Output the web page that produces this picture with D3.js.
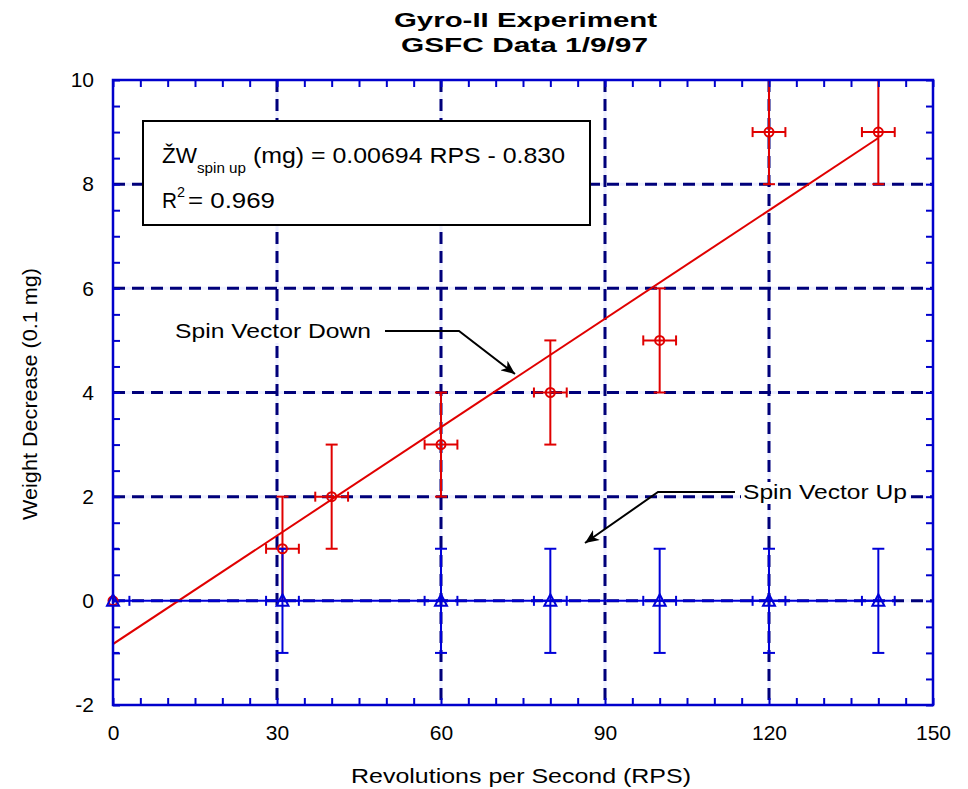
<!DOCTYPE html>
<html>
<head>
<meta charset="utf-8">
<script src="https://d3js.org/d3.v7.min.js"></script>
<style>
  html, body { margin: 0; padding: 0; background: #fff; }
  svg { display: block; }
  text { font-family: Arial, "Liberation Sans", sans-serif; fill: #000; }
</style>
</head>
<body>
<svg id="chart" width="968" height="789"></svg>
<script>
// ---------- data ----------
const titleLines = ["Gyro-II Experiment", "GSFC Data 1/9/97"];
const xTicks = [0, 30, 60, 90, 120, 150];
const yTicks = [-2, 0, 2, 4, 6, 8, 10];
const xLabel = "Revolutions per Second (RPS)";
const yLabel = "Weight Decrease (0.1 mg)";

// Spin Vector Down (red circles)
const downRps   = [0, 31, 40, 60, 80, 100, 120, 140];
const downVal   = [0, 1, 2, 3, 4, 5, 9, 9];
const downErrY  = [0, 1, 1, 1, 1, 1, 1, 1];
const downErrX  = [0, 3, 3, 3, 3, 3, 3, 3];

// Spin Vector Up (blue triangles)
const upRps  = [0, 31, 60, 80, 100, 120, 140];
const upVal  = [0, 0, 0, 0, 0, 0, 0];
const upErrY = [1, 1, 1, 1, 1, 1, 1];
const upErrX = [3, 3, 3, 3, 3, 3, 3];

// Linear fit of spin-down data (units of 0.1 mg)
const fitSlope = 0.0694;
const fitIntercept = -0.830;
const fitR2 = 0.969;
const fitRange = [0, 140];

// ---------- layout ----------
const svg = d3.select("#chart");
const L = 113, R = 933, T = 80, B = 705;
const x = d3.scaleLinear().domain([0, 150]).range([L, R]);
const y = d3.scaleLinear().domain([-2, 10]).range([B, T]);

const RED = "#e00000", BLUE = "#0000d8", FRAME = "#0000cc", NAVY = "#00007a";

const defs = svg.append("defs");
defs.append("clipPath").attr("id", "plotclip")
  .append("rect").attr("x", L).attr("y", T).attr("width", R - L).attr("height", B - T);

// grid (light underlay + dashed navy)
const grid = svg.append("g");
const gx = xTicks.slice(1, -1), gy = yTicks.slice(1, -1);
[["#eef0ff", null], [NAVY, "12,7"]].forEach(([c, d]) => {
  grid.selectAll(null).data(gx).enter().append("line")
    .attr("x1", d => x(d)).attr("x2", d => x(d)).attr("y1", T).attr("y2", B)
    .attr("stroke", c).attr("stroke-width", 3).attr("stroke-dasharray", d);
  grid.selectAll(null).data(gy).enter().append("line")
    .attr("y1", d => y(d)).attr("y2", d => y(d)).attr("x1", L).attr("x2", R)
    .attr("stroke", c).attr("stroke-width", 3).attr("stroke-dasharray", d);
});

const plot = svg.append("g").attr("clip-path", "url(#plotclip)");

// fit line
plot.append("line")
  .attr("x1", x(fitRange[0])).attr("y1", y(fitSlope * fitRange[0] + fitIntercept))
  .attr("x2", x(fitRange[1])).attr("y2", y(fitSlope * fitRange[1] + fitIntercept))
  .attr("stroke", RED).attr("stroke-width", 2);

function errorBars(g, xs, vs, ex, ey, color) {
  xs.forEach((xv, i) => {
    const cx = x(xv), cy = y(vs[i]);
    if (ey[i] > 0) {
      const y1 = y(vs[i] + ey[i]), y2 = y(vs[i] - ey[i]);
      g.append("line").attr("x1", cx).attr("x2", cx).attr("y1", y1).attr("y2", y2)
        .attr("stroke", color).attr("stroke-width", 2);
      [y1, y2].forEach(yy => g.append("line").attr("x1", cx - 6).attr("x2", cx + 6)
        .attr("y1", yy).attr("y2", yy).attr("stroke", color).attr("stroke-width", 2));
    }
    if (ex[i] > 0) {
      const x1 = x(xv - ex[i]), x2 = x(xv + ex[i]);
      g.append("line").attr("x1", x1).attr("x2", x2).attr("y1", cy).attr("y2", cy)
        .attr("stroke", color).attr("stroke-width", 2);
      [x1, x2].forEach(xx => g.append("line").attr("x1", xx).attr("x2", xx)
        .attr("y1", cy - 5).attr("y2", cy + 5).attr("stroke", color).attr("stroke-width", 2));
    }
  });
}

// red series error bars
const red = plot.append("g");
errorBars(red, downRps, downVal, downErrX, downErrY, RED);

// blue series line + error bars
const blue = plot.append("g");
blue.append("path")
  .datum(upRps.map((d, i) => [d, upVal[i]]))
  .attr("d", d3.line().x(d => x(d[0])).y(d => y(d[1])))
  .attr("fill", "none").attr("stroke", BLUE).attr("stroke-width", 2);
errorBars(blue, upRps, upVal, upErrX, upErrY, BLUE);

// frame & ticks
const minorX = d3.range(0, 150.01, 5), minorY = d3.range(-2, 10.01, 0.5);
const tickStyle = g => { g.select(".domain").remove(); g.selectAll("line").attr("stroke", FRAME).attr("stroke-width", 2); };
svg.append("g").attr("transform", `translate(0,${B})`)
  .call(d3.axisBottom(x).tickValues(minorX).tickSize(-7).tickFormat("")).call(tickStyle);
svg.append("g").attr("transform", `translate(0,${T})`)
  .call(d3.axisTop(x).tickValues(minorX).tickSize(-7).tickFormat("")).call(tickStyle);
svg.append("g").attr("transform", `translate(${L},0)`)
  .call(d3.axisLeft(y).tickValues(minorY).tickSize(-7).tickFormat("")).call(tickStyle);
svg.append("g").attr("transform", `translate(${R},0)`)
  .call(d3.axisRight(y).tickValues(minorY).tickSize(-7).tickFormat("")).call(tickStyle);
svg.append("rect").attr("x", L).attr("y", T).attr("width", R - L).attr("height", B - T)
  .attr("fill", "none").attr("stroke", FRAME).attr("stroke-width", 2.5);

// markers (not clipped)
svg.append("g").selectAll("circle").data(downRps).enter().append("circle")
  .attr("cx", d => x(d)).attr("cy", (d, i) => y(downVal[i])).attr("r", 4.5)
  .attr("fill", "none").attr("stroke", RED).attr("stroke-width", 2);
svg.append("g").selectAll("path").data(upRps).enter().append("path")
  .attr("transform", (d, i) => `translate(${x(d)},${y(upVal[i])})`)
  .attr("d", "M0,-6.5L6,5L-6,5Z")
  .attr("fill", "none").attr("stroke", BLUE).attr("stroke-width", 2);

// tick labels
const xl = svg.append("g").attr("transform", `translate(0,${B})`)
  .call(d3.axisBottom(x).tickValues(xTicks).tickSize(0).tickPadding(20).tickFormat(d => String(d)));
xl.select(".domain").remove();
xl.selectAll("text").attr("font-size", 21).attr("font-family", "Arial, 'Liberation Sans', sans-serif").attr("fill", "#000");
const yl = svg.append("g").attr("transform", `translate(${L},0)`)
  .call(d3.axisLeft(y).tickValues(yTicks).tickSize(0).tickPadding(19).tickFormat(d => String(d)));
yl.select(".domain").remove();
yl.selectAll("text").attr("font-size", 21).attr("font-family", "Arial, 'Liberation Sans', sans-serif").attr("fill", "#000");

// axis titles
svg.append("text").attr("x", 521).attr("y", 783).attr("text-anchor", "middle")
  .attr("font-size", 21).attr("textLength", 340).attr("lengthAdjust", "spacingAndGlyphs").text(xLabel);
svg.append("text").attr("transform", "translate(37,394) rotate(-90)").attr("text-anchor", "middle")
  .attr("font-size", 21).attr("textLength", 252).attr("lengthAdjust", "spacingAndGlyphs").text(yLabel);

// title
svg.append("text").attr("x", 394).attr("y", 27).attr("font-size", 21).attr("font-weight", "bold")
  .attr("textLength", 263).attr("lengthAdjust", "spacingAndGlyphs").text(titleLines[0]);
svg.append("text").attr("x", 401).attr("y", 52).attr("font-size", 21).attr("font-weight", "bold")
  .attr("textLength", 247).attr("lengthAdjust", "spacingAndGlyphs").text(titleLines[1]);

// equation box
svg.append("rect").attr("x", 143).attr("y", 121).attr("width", 447).attr("height", 104)
  .attr("fill", "#fff").attr("stroke", "#000").attr("stroke-width", 2);
const putText = (tx, ty, fs, len, s) => svg.append("text").attr("x", tx).attr("y", ty)
  .attr("font-size", fs).attr("textLength", len).attr("lengthAdjust", "spacingAndGlyphs").text(s);
putText(162, 163, 22, 35, "ŽW");
putText(197, 173, 15, 49, "spin up");
putText(253, 163, 22, 312, `(mg) = ${(fitSlope / 10).toFixed(5)} RPS - ${Math.abs(fitIntercept).toFixed(3)}`);
putText(162, 208, 22, 15, "R");
putText(177, 197, 14, 8, "2");
putText(188, 208, 22, 87, `= ${fitR2.toFixed(3)}`);

// annotations
defs.append("marker").attr("id", "arr").attr("viewBox", "0 0 14 12")
  .attr("refX", 14).attr("refY", 6).attr("markerWidth", 14).attr("markerHeight", 12)
  .attr("markerUnits", "userSpaceOnUse").attr("orient", "auto")
  .append("path").attr("d", "M0,0L14,6L0,12L4,6Z").attr("fill", "#000");

function annotate(tx, ty, len, label, pts) {
  svg.append("rect").attr("x", tx - 2).attr("y", ty - 17).attr("width", len + 4).attr("height", 22).attr("fill", "#fff");
  putText(tx, ty, 21, len, label);
  svg.append("polyline").attr("points", pts)
    .attr("fill", "none").attr("stroke", "#000").attr("stroke-width", 2).attr("marker-end", "url(#arr)");
}
annotate(175, 338, 196, "Spin Vector Down", "385,331 459,331 515,374");
annotate(743, 499, 164, "Spin Vector Up", "735,492 658,492 585,543");
</script>
</body>
</html>
